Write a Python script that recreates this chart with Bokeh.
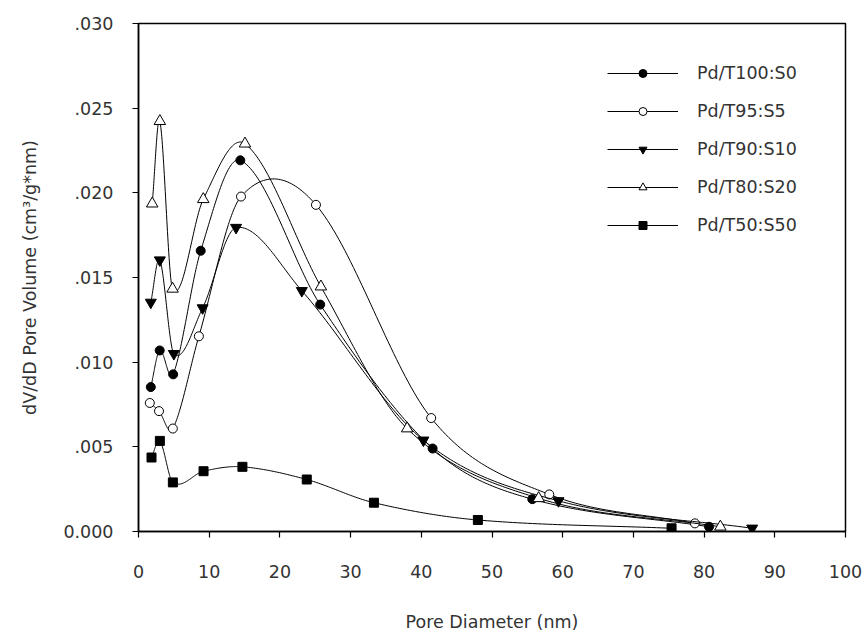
import numpy as np
from bokeh.plotting import figure
from bokeh.models import FixedTicker, Legend, LegendItem, Range1d
from bokeh.embed import file_html
from bokeh.resources import INLINE

# ---- data ----
series_names = ["Pd/T100:S0", "Pd/T95:S5", "Pd/T90:S10", "Pd/T80:S20", "Pd/T50:S50"]

x_s0 = [1.74, 3.0, 4.9, 8.8, 14.4, 25.7, 41.6, 55.7, 80.7]
y_s0 = [0.00853, 0.01069, 0.00928, 0.01658, 0.02192, 0.0134, 0.0049, 0.00191, 0.00028]

x_s5 = [1.6, 2.9, 4.86, 8.54, 14.5, 25.1, 41.4, 58.1, 78.7]
y_s5 = [0.00759, 0.00711, 0.00608, 0.01153, 0.01978, 0.01929, 0.0067, 0.00219, 0.00048]

x_s10 = [1.74, 3.02, 5.0, 9.07, 13.8, 23.1, 40.3, 59.4, 86.8]
y_s10 = [0.01353, 0.01603, 0.0105, 0.0132, 0.01795, 0.01422, 0.00539, 0.00181, 0.00019]

x_s20 = [1.94, 3.02, 4.82, 9.16, 15.06, 25.8, 38.0, 56.6, 82.3]
y_s20 = [0.01936, 0.02423, 0.01433, 0.01962, 0.0229, 0.01446, 0.00608, 0.00196, 0.00028]

x_s50 = [1.84, 3.02, 4.86, 9.2, 14.7, 23.8, 33.3, 48.0, 75.4]
y_s50 = [0.00437, 0.00535, 0.0029, 0.00356, 0.00382, 0.00307, 0.0017, 0.00068, 0.00019]

x_ticks = [0, 10, 20, 30, 40, 50, 60, 70, 80, 90, 100]
y_ticks = [0.0, 0.005, 0.01, 0.015, 0.02, 0.025, 0.03]
y_tick_labels = ["0.000", ".005", ".010", ".015", ".020", ".025", ".030"]

X_MIN, X_MAX = 0, 100
Y_MIN, Y_MAX = 0, 0.030

W, H = 864, 639
B_LEFT, B_RIGHT, B_TOP, B_BOTTOM = 138, 19, 23, 108


def smooth_curve(xs, ys, per=40):
    """Cubic Hermite (Catmull-Rom style) curve through the data points."""
    x = np.asarray(xs, float)
    y = np.asarray(ys, float)
    n = len(x)
    m = np.empty(n)
    m[0] = (y[1] - y[0]) / (x[1] - x[0])
    m[-1] = (y[-1] - y[-2]) / (x[-1] - x[-2])
    m[1:-1] = (y[2:] - y[:-2]) / (x[2:] - x[:-2])
    out_x, out_y = [], []
    for i in range(n - 1):
        t = np.linspace(0, 1, per, endpoint=(i == n - 2))
        h = x[i + 1] - x[i]
        h00 = 2 * t ** 3 - 3 * t ** 2 + 1
        h10 = t ** 3 - 2 * t ** 2 + t
        h01 = -2 * t ** 3 + 3 * t ** 2
        h11 = t ** 3 - t ** 2
        out_x.append(x[i] + t * h)
        out_y.append(h00 * y[i] + h10 * h * m[i] + h01 * y[i + 1] + h11 * h * m[i + 1])
    return np.concatenate(out_x), np.concatenate(out_y)


FONT = "DejaVu Sans"
FS = "17.5px"
TXT = "#333333"

p = figure(width=W, height=H, output_backend="svg", toolbar_location=None,
           x_range=Range1d(X_MIN, X_MAX), y_range=Range1d(Y_MIN, Y_MAX),
           min_border_left=B_LEFT, min_border_right=B_RIGHT,
           min_border_top=B_TOP, min_border_bottom=B_BOTTOM)
p.grid.visible = False
p.outline_line_color = "black"
p.outline_line_width = 1.5
p.background_fill_color = "white"
p.border_fill_color = "white"

for ax in (p.xaxis[0], p.yaxis[0]):
    ax.axis_line_width = 1.5
    ax.axis_line_color = "black"
    ax.major_tick_line_color = "black"
    ax.major_tick_line_width = 1.2
    ax.major_tick_in = 0
    ax.major_tick_out = 6
    ax.minor_tick_line_color = None
    ax.major_label_text_font = FONT
    ax.major_label_text_font_size = FS
    ax.major_label_text_color = TXT
    ax.axis_label_text_font = FONT
    ax.axis_label_text_font_size = FS
    ax.axis_label_text_font_style = "normal"
    ax.axis_label_text_color = TXT

p.xaxis.ticker = FixedTicker(ticks=x_ticks)
p.xaxis.major_label_standoff = 27
p.xaxis.axis_label = "Pore Diameter (nm)"
p.xaxis.axis_label_standoff = 31

p.yaxis.ticker = FixedTicker(ticks=y_ticks)
p.yaxis.major_label_overrides = dict(zip(y_ticks, y_tick_labels))
p.yaxis.major_label_standoff = 19
p.yaxis.axis_label = "dV/dD Pore Volume (cm³/g*nm)"
p.yaxis.axis_label_standoff = 20

all_x = [x_s0, x_s5, x_s10, x_s20, x_s50]
all_y = [y_s0, y_s5, y_s10, y_s20, y_s50]
markers = ["circle", "circle", "inverted_triangle", "triangle", "square"]
fills = ["black", "white", "black", "white", "black"]
sizes = [9, 9, 11, 11.5, 9]

items = []
for name, xs, ys, mk, fc, sz in zip(series_names, all_x, all_y, markers, fills, sizes):
    cx, cy = smooth_curve(xs, ys)
    lr = p.line(cx, cy, line_color="black", line_width=1)
    sr = p.scatter(xs, ys, marker=mk, size=sz, fill_color=fc,
                   line_color="black", line_width=1)
    items.append(LegendItem(label=name, renderers=[lr, sr]))

legend = Legend(items=items, location=(469, 296))
legend.border_line_color = None
legend.background_fill_alpha = 0
legend.padding = 0
legend.margin = 0
legend.glyph_width = 71
legend.glyph_height = 20
legend.label_height = 20
legend.spacing = 18
legend.label_standoff = 19
legend.label_text_font = FONT
legend.label_text_font_size = FS
legend.label_text_color = TXT
p.add_layout(legend)

open("out.html", "w").write(file_html(p, INLINE))
